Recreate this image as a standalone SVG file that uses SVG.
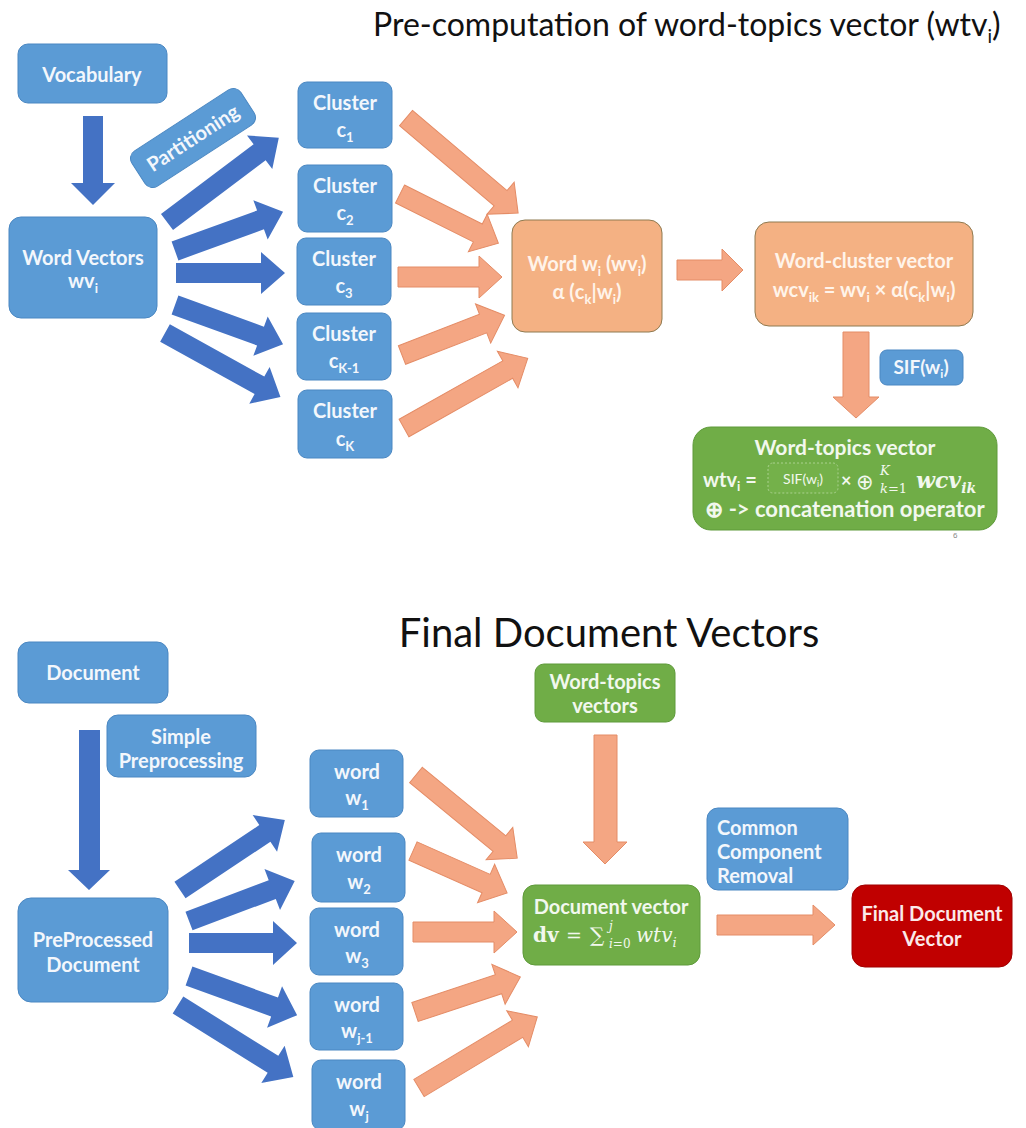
<svg xmlns="http://www.w3.org/2000/svg" width="1026" height="1128" viewBox="0 0 1026 1128">
<style>
text{font-family:Lato,"Open Sans","Liberation Sans",sans-serif}
.bb{fill:#5B9BD5;stroke:#4A87C2;stroke-width:1}
.ob{fill:#F4B183;stroke:#8F7A50;stroke-width:1}
.gb{fill:#70AD47;stroke:#5E9A3A;stroke-width:1}
.rb{fill:#C00000;stroke:#A00000;stroke-width:1}
.ba{fill:#4472C4}
.oa{fill:#F4A683;stroke:#E48C66;stroke-width:1}
.t{font-weight:700;font-size:20px;fill:#F3F7FC;text-anchor:middle}
.to{font-weight:700;font-size:20px;fill:#FFF4EA;text-anchor:middle}
.tg{font-weight:700;font-size:20px;fill:#F2F8EE;text-anchor:middle}
.title{font-size:32px;fill:#111}
.m{font-family:"DejaVu Serif","Liberation Serif",serif;font-style:italic;font-weight:700;fill:#F2F8EE}
.s{font-family:"DejaVu Serif","Liberation Serif",serif;fill:#F2F8EE}
</style>

<text class="title" x="373" y="36">Pre-computation of word-topics vector (wtv<tspan dy="7" font-size="19">i</tspan><tspan dy="-7">)</tspan></text>
<text class="title" x="609" y="647" text-anchor="middle" style="font-size:40px">Final Document Vectors</text>

<g id="connectors">
  <!-- top blue -->
  <path class="ba" d="M83 116 H103 V183 H115 L93 205 L71 183 H83 Z"/>
  <g transform="translate(167,222) rotate(-37)"><path class="ba" d="M0 -10 H116 V-21 L140 0 L116 21 V10 H0 Z"/></g>
  <g transform="translate(175,251) rotate(-20)"><path class="ba" d="M0 -10 H91 V-21 L115 0 L91 21 V10 H0 Z"/></g>
  <g transform="translate(176,273)"><path class="ba" d="M0 -10 H85 V-21 L109 0 L85 21 V10 H0 Z"/></g>
  <g transform="translate(175,305) rotate(20)"><path class="ba" d="M0 -10 H91 V-21 L115 0 L91 21 V10 H0 Z"/></g>
  <g transform="translate(165,333) rotate(29)"><path class="ba" d="M0 -10 H108 V-21 L132 0 L108 21 V10 H0 Z"/></g>
  <!-- top orange -->
  <g transform="translate(406,118) rotate(40.3)"><path class="oa" d="M0 -10 H124 V-21 L147 0 L124 21 V10 H0 Z"/></g>
  <g transform="translate(400,194) rotate(26.6)"><path class="oa" d="M0 -10 H87 V-21 L110 0 L87 21 V10 H0 Z"/></g>
  <g transform="translate(398,277)"><path class="oa" d="M0 -10 H81 V-21 L104 0 L81 21 V10 H0 Z"/></g>
  <g transform="translate(402,355) rotate(-21.2)"><path class="oa" d="M0 -10 H87 V-21 L110 0 L87 21 V10 H0 Z"/></g>
  <g transform="translate(404,428) rotate(-29.4)"><path class="oa" d="M0 -10 H119 V-21 L142 0 L119 21 V10 H0 Z"/></g>
  <path class="oa" d="M677 260 H722 V249 L743 270 L722 291 V280 H677 Z"/>
  <path class="oa" d="M843 332 H869 V397 H879 L856 418 L833 397 H843 Z"/>
  <!-- bottom blue -->
  <path class="ba" d="M79 730 H100 V870 H110 L89 890 L68 870 H79 Z"/>
  <g transform="translate(180,890) rotate(-33.7)"><path class="ba" d="M0 -10 H102 V-22 L126 0 L102 22 V10 H0 Z"/></g>
  <g transform="translate(189,921) rotate(-20.7)"><path class="ba" d="M0 -10 H89 V-22 L113 0 L89 22 V10 H0 Z"/></g>
  <g transform="translate(189,943)"><path class="ba" d="M0 -10 H84 V-22 L108 0 L84 22 V10 H0 Z"/></g>
  <g transform="translate(189,976) rotate(19.9)"><path class="ba" d="M0 -10 H91 V-22 L115 0 L91 22 V10 H0 Z"/></g>
  <g transform="translate(178,1005) rotate(32)"><path class="ba" d="M0 -10 H112 V-22 L136 0 L112 22 V10 H0 Z"/></g>
  <!-- bottom orange -->
  <g transform="translate(416,775) rotate(39.4)"><path class="oa" d="M0 -10 H108 V-21 L131 0 L108 21 V10 H0 Z"/></g>
  <g transform="translate(413,851) rotate(24)"><path class="oa" d="M0 -10 H80 V-21 L103 0 L80 21 V10 H0 Z"/></g>
  <g transform="translate(413,932)"><path class="oa" d="M0 -10 H81 V-21 L104 0 L81 21 V10 H0 Z"/></g>
  <g transform="translate(415,1012) rotate(-18.4)"><path class="oa" d="M0 -10 H88 V-21 L111 0 L88 21 V10 H0 Z"/></g>
  <g transform="translate(419,1088) rotate(-31)"><path class="oa" d="M0 -10 H115 V-21 L138 0 L115 21 V10 H0 Z"/></g>
  <path class="oa" d="M594 735 H617 V842 H627 L605 864 L583 842 H594 Z"/>
  <path class="oa" d="M717 915 H813 V905 L835 925 L813 945 V935 H717 Z"/>
</g>

<!-- top section nodes -->
<g id="vocabulary"><rect class="bb" x="18" y="44" width="149" height="59" rx="10"/><text class="t" x="92" y="82">Vocabulary</text></g>
<g id="word-vectors"><rect class="bb" x="9" y="217" width="148" height="101" rx="12"/><text class="t" x="83" y="265">Word Vectors</text><text class="t" x="83" y="288">wv<tspan dy="5" font-size="13">i</tspan></text></g>
<g id="partitioning" transform="translate(193,138) rotate(-33)"><rect class="bb" x="-65" y="-21" width="130" height="42" rx="9"/><text class="t" x="0" y="7">Partitioning</text></g>

<g id="cluster-1"><rect class="bb" x="298" y="82" width="94" height="66" rx="9"/><text class="t" x="345" y="110">Cluster</text><text class="t" x="345" y="137">c<tspan dy="5" font-size="13">1</tspan></text></g>
<g id="cluster-2"><rect class="bb" x="298" y="165" width="94" height="67" rx="9"/><text class="t" x="345" y="193">Cluster</text><text class="t" x="345" y="220">c<tspan dy="5" font-size="13">2</tspan></text></g>
<g id="cluster-3"><rect class="bb" x="297" y="238" width="94" height="67" rx="9"/><text class="t" x="344" y="266">Cluster</text><text class="t" x="344" y="293">c<tspan dy="5" font-size="13">3</tspan></text></g>
<g id="cluster-k-1"><rect class="bb" x="297" y="313" width="94" height="67" rx="9"/><text class="t" x="344" y="341">Cluster</text><text class="t" x="344" y="368">c<tspan dy="5" font-size="13">K-1</tspan></text></g>
<g id="cluster-k"><rect class="bb" x="298" y="390" width="94" height="68" rx="9"/><text class="t" x="345" y="418">Cluster</text><text class="t" x="345" y="446">c<tspan dy="5" font-size="13">K</tspan></text></g>

<g id="word-wi"><rect class="ob" x="512" y="220" width="150" height="112" rx="13"/>
<text class="to" x="587" y="271">Word w<tspan dy="5" font-size="13">i</tspan><tspan dy="-5"> (wv</tspan><tspan dy="5" font-size="13">i</tspan><tspan dy="-5">)</tspan></text>
<text class="to" x="587" y="299">α (c<tspan dy="5" font-size="13">k</tspan><tspan dy="-5">|w</tspan><tspan dy="5" font-size="13">i</tspan><tspan dy="-5">)</tspan></text></g>

<g id="word-cluster"><rect class="ob" x="755" y="222" width="218" height="104" rx="14"/>
<text class="to" x="864" y="268">Word-cluster vector</text>
<text class="to" x="864" y="297">wcv<tspan dy="5" font-size="13">ik</tspan><tspan dy="-5"> = wv</tspan><tspan dy="5" font-size="13">i</tspan><tspan dy="-5"> × α(c</tspan><tspan dy="5" font-size="13">k</tspan><tspan dy="-5">|w</tspan><tspan dy="5" font-size="13">i</tspan><tspan dy="-5">)</tspan></text></g>

<g id="sif"><rect class="bb" x="880" y="350" width="83" height="35" rx="7"/><text class="t" x="921" y="374" style="font-size:19px">SIF(w<tspan dy="4" font-size="12">i</tspan><tspan dy="-4">)</tspan></text></g>

<g id="word-topics"><rect class="gb" x="693" y="427" width="304" height="103" rx="18"/>
<text class="tg" x="845" y="455" style="font-size:21px">Word-topics vector</text>
<text class="tg" x="703" y="487" style="text-anchor:start">wtv<tspan dy="4" font-size="13">i</tspan><tspan dy="-4"> =</tspan></text>
<rect x="768" y="463" width="70" height="30" rx="5" fill="#74B14A" stroke="#A9D18E" stroke-width="1" stroke-dasharray="2,2"/>
<text x="803" y="484" style="font-size:14px;fill:#F2F8EE;text-anchor:middle">SIF(w<tspan dy="3" font-size="9">i</tspan><tspan dy="-3">)</tspan></text>
<text class="tg" x="841" y="487" style="text-anchor:start;font-size:18px">×</text>
<text x="856" y="489" style="font-size:21px;fill:#F2F8EE;font-family:'DejaVu Sans',sans-serif">⊕</text>
<text class="m" x="880" y="475" style="font-size:13px;font-weight:400">K</text>
<text class="m" x="880" y="493" style="font-size:13px;font-weight:400">k<tspan font-style="normal">=1</tspan></text>
<text class="m" x="916" y="488" style="font-size:22px">wcv<tspan dy="5" font-size="14">ik</tspan></text>
<text class="tg" x="845" y="517" style="font-size:22px">⊕ -&gt; concatenation operator</text></g>

<text x="953" y="538" style="font-size:8px;fill:#888;font-family:'Liberation Sans',sans-serif">6</text>

<!-- bottom section nodes -->
<g id="document"><rect class="bb" x="18" y="642" width="150" height="61" rx="11"/><text class="t" x="93" y="680">Document</text></g>
<g id="simple-preprocessing"><rect class="bb" x="107" y="715" width="149" height="62" rx="11"/><text class="t" x="181" y="744">Simple</text><text class="t" x="181" y="768">Preprocessing</text></g>
<g id="preprocessed-document"><rect class="bb" x="18" y="898" width="150" height="104" rx="13"/><text class="t" x="93" y="947">PreProcessed</text><text class="t" x="93" y="972">Document</text></g>

<g id="word-1"><rect class="bb" x="310" y="750" width="93" height="67" rx="9"/><text class="t" x="357" y="779">word</text><text class="t" x="357" y="805">w<tspan dy="5" font-size="13">1</tspan></text></g>
<g id="word-2"><rect class="bb" x="312" y="833" width="93" height="69" rx="9"/><text class="t" x="359" y="862">word</text><text class="t" x="359" y="889">w<tspan dy="5" font-size="13">2</tspan></text></g>
<g id="word-3"><rect class="bb" x="310" y="908" width="93" height="67" rx="9"/><text class="t" x="357" y="937">word</text><text class="t" x="357" y="963">w<tspan dy="5" font-size="13">3</tspan></text></g>
<g id="word-j-1"><rect class="bb" x="310" y="983" width="93" height="67" rx="9"/><text class="t" x="357" y="1012">word</text><text class="t" x="357" y="1038">w<tspan dy="5" font-size="13">j-1</tspan></text></g>
<g id="word-j"><rect class="bb" x="312" y="1060" width="93" height="70" rx="9"/><text class="t" x="359" y="1089">word</text><text class="t" x="359" y="1116">w<tspan dy="5" font-size="13">j</tspan></text></g>

<g id="word-topics-vectors"><rect class="gb" x="535" y="664" width="140" height="58" rx="9"/><text class="tg" x="605" y="689">Word-topics</text><text class="tg" x="605" y="713">vectors</text></g>
<g id="common-component-removal"><rect class="bb" x="707" y="808" width="141" height="82" rx="11"/><text class="t" x="717" y="835" style="text-anchor:start">Common</text><text class="t" x="717" y="859" style="text-anchor:start">Component</text><text class="t" x="717" y="883" style="text-anchor:start">Removal</text></g>

<g id="document-vector"><rect class="gb" x="523" y="885" width="177" height="80" rx="12"/>
<text class="tg" x="611" y="914">Document vector</text>
<text class="s" x="533" y="942" style="font-weight:700;font-size:20px">dv</text>
<text class="s" x="566" y="942" style="font-size:19px">=</text>
<text class="s" x="590" y="942" style="font-size:20px">∑</text>
<text class="m" x="609" y="930" style="font-size:12px;font-weight:400">j</text>
<text class="m" x="609" y="948" style="font-size:12px;font-weight:400">i<tspan font-style="normal">=0</tspan></text>
<text class="m" x="636" y="942" style="font-size:20px;font-weight:400">wtv<tspan dy="5" font-size="13">i</tspan></text></g>

<g id="final-document-vector"><rect class="rb" x="852" y="885" width="160" height="82" rx="13"/><text class="t" x="932" y="921" style="fill:#FBE9E9">Final Document</text><text class="t" x="932" y="946" style="fill:#FBE9E9">Vector</text></g>
</svg>
